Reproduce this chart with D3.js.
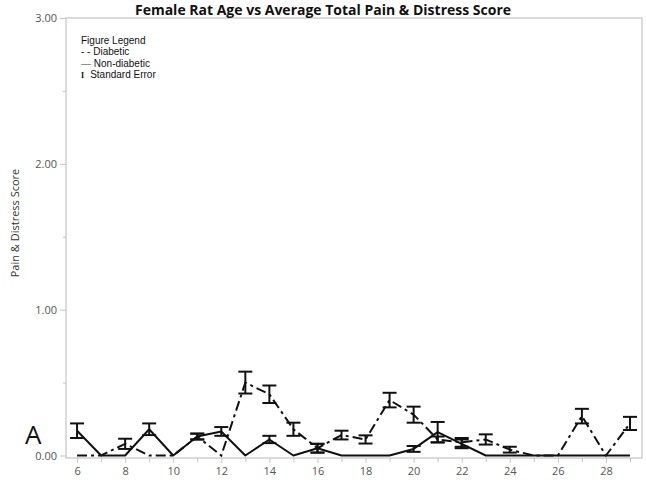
<!DOCTYPE html>
<html><head><meta charset="utf-8">
<script src="https://cdn.jsdelivr.net/npm/d3@7"></script>
<style>body{margin:0;background:#fff;} svg{display:block;}</style>
</head><body>
<svg id="c" width="646" height="486"></svg>
<script>
const ages = [6,7,8,9,10,11,12,13,14,15,16,17,18,19,20,21,22,23,24,25,26,27,28,29];
const diabetic   = [0,0,0.08,0,0,0.13,0,0.50,0.42,0.18,0.05,0.14,0.11,0.38,0.28,0.11,0.09,0.11,0.04,0,0,0.27,0,0.22];
const diabeticSE = [0,0,0.035,0,0,0.02,0,0.075,0.06,0.045,0.03,0.03,0.028,0.05,0.055,0.02,0.03,0.035,0.02,0,0,0.05,0,0.045];
const nondiabetic   = [0.17,0,0,0.18,0,0.13,0.165,0,0.11,0,0.05,0,0,0,0.045,0.16,0.08,0,0,0,0,0,0,0];
const nondiabeticSE = [0.05,0,0,0.04,0,0.02,0.03,0,0.025,0,0.03,0,0,0,0.02,0.07,0.03,0,0,0,0,0,0,0];
const yTicks = [0,1,2,3];
const yMinor = [0.5,1.5,2.5];
const xLabels = [6,8,10,12,14,16,18,20,22,24,26,28];
const legendLines = [["","Figure Legend"],["- - ","Diabetic"],["\u2014 ","Non-diabetic"],["I\u00a0\u00a0\u00a0","Standard Error"]];

const svg = d3.select("#c");
const x = d3.scaleLinear().domain([5.54, 29.5]).range([66, 642]);
const y = d3.scaleLinear().domain([0, 3]).range([455.5, 18]);
const gray = "#c4c4c4";

// frame
svg.append("rect").attr("x",66).attr("y",18).attr("width",576).attr("height",440)
  .attr("fill","none").attr("stroke",gray).attr("stroke-width",1.2);

// y axis
const yAxis = svg.append("g").attr("transform","translate(66,0)")
  .call(d3.axisLeft(y).tickValues(yTicks).tickFormat(d3.format(".2f")).tickSize(6).tickPadding(3));
yAxis.select(".domain").remove();
yAxis.selectAll("line").attr("stroke",gray);
yAxis.selectAll("text").attr("font-family","Open Sans, sans-serif").attr("font-size",11).attr("fill","#555");
svg.append("g").attr("transform","translate(66,0)")
  .call(d3.axisLeft(y).tickValues(yMinor).tickFormat("").tickSize(3))
  .call(g=>{g.select(".domain").remove(); g.selectAll("line").attr("stroke",gray);});

// x axis
const xAxis = svg.append("g").attr("transform","translate(0,458)")
  .call(d3.axisBottom(x).tickValues(xLabels).tickFormat(d3.format("d")).tickSize(5).tickPadding(4));
xAxis.select(".domain").remove();
xAxis.selectAll("line").attr("stroke",gray);
xAxis.selectAll("text").attr("font-family","Open Sans, sans-serif").attr("font-size",11).attr("fill","#555");
svg.append("g").attr("transform","translate(0,458)")
  .call(d3.axisBottom(x).tickValues(ages.filter(a=>a%2===1)).tickFormat("").tickSize(4))
  .call(g=>{g.select(".domain").remove(); g.selectAll("line").attr("stroke",gray);});

// lines
const line = d3.line().x(d=>x(d[0])).y(d=>y(d[1]));
svg.append("path").datum(ages.map((a,i)=>[a,nondiabetic[i]]))
  .attr("d",line).attr("fill","none").attr("stroke","#111").attr("stroke-width",2).attr("stroke-linejoin","round");
svg.append("path").datum(ages.map((a,i)=>[a,diabetic[i]]))
  .attr("d",line).attr("fill","none").attr("stroke","#111").attr("stroke-width",2)
  .attr("stroke-dasharray","10,4,3,4");

// error bars
function errBars(vals, se){
  const g = svg.append("g").attr("stroke","#111").attr("stroke-width",2);
  ages.forEach((a,i)=>{
    if(se[i] <= 0) return;
    const cx = x(a), y1 = y(vals[i]+se[i]), y2 = y(vals[i]-se[i]);
    g.append("line").attr("x1",cx).attr("x2",cx).attr("y1",y1).attr("y2",y2);
    g.append("line").attr("x1",cx-7).attr("x2",cx+7).attr("y1",y1).attr("y2",y1);
    g.append("line").attr("x1",cx-7).attr("x2",cx+7).attr("y1",y2).attr("y2",y2);
  });
}
errBars(diabetic, diabeticSE);
errBars(nondiabetic, nondiabeticSE);

// title
svg.append("text").attr("x",323).attr("y",15).attr("text-anchor","middle")
  .attr("font-family","Open Sans, sans-serif").attr("font-weight","bold").attr("font-size",14).attr("fill","#111")
  .text("Female Rat Age vs Average Total Pain & Distress Score");

// y label
svg.append("text").attr("transform","translate(19,223) rotate(-90)").attr("text-anchor","middle")
  .attr("font-family","Open Sans, sans-serif").attr("font-size",11).attr("fill","#333")
  .text("Pain & Distress Score");

// legend
const lg = svg.append("g").selectAll("text").data(legendLines).join("text")
  .attr("x",81).attr("y",(d,i)=>44+i*11.3)
  .attr("font-family","Liberation Sans, Arial, sans-serif").attr("font-size",10).attr("fill","#111");
lg.append("tspan").attr("font-family",(d,i)=>i===3?"Liberation Serif, serif":null)
  .attr("font-weight",(d,i)=>i===3?"bold":null).attr("font-size",(d,i)=>i===3?8:null)
  .attr("fill",(d,i)=>i===2?"#777":null).text(d=>d[0]);
lg.append("tspan").text(d=>d[1]);

// panel letter
svg.append("text").attr("x",25).attr("y",444)
  .attr("font-family","Open Sans, sans-serif").attr("font-size",26).attr("fill","#111").text("A");
</script>
</body></html>
